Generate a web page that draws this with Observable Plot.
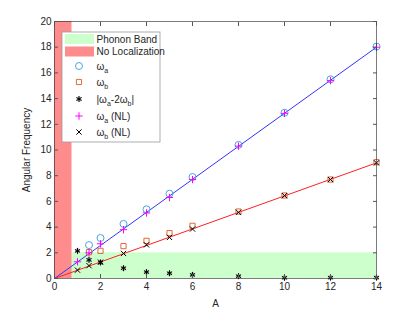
<!DOCTYPE html>
<html><head><meta charset="utf-8">
<script src="https://cdn.jsdelivr.net/npm/d3@7"></script>
<script src="https://cdn.jsdelivr.net/npm/@observablehq/plot@0.6"></script>
<style>
body{margin:0;background:#fff;}
#c{position:relative;width:415px;height:312px;}
svg{font-family:"Liberation Sans",Arial,Helvetica,sans-serif;}
</style>
</head><body><div id="c"></div>
<script>
// amplitudes
const A_all = [1, 1.5, 2, 3, 4, 5, 6, 8, 10, 12, 14];
const A_lin = [1.5, 2, 3, 4, 5, 6, 8, 10, 12, 14];
// linear-theory frequencies
const omegaA = [2.6, 3.15, 4.25, 5.38, 6.6, 7.9, 10.4, 12.9, 15.5, 18.05];
const omegaB = [2.05, 2.15, 2.52, 2.93, 3.53, 4.1, 5.21, 6.46, 7.7, 9.05];
// |wa - 2wb|
const diffW = [2.15, 1.45, 1.25, 0.8, 0.5, 0.41, 0.28, 0.18, 0.06, 0.07, 0.07];
// nonlinear
const omegaA_NL = [1.3, 2.0, 2.7, 3.8, 5.1, 6.3, 7.7, 10.3, 12.85, 15.4, 18.0];
const omegaB_NL = [0.65, 1.0, 1.27, 1.95, 2.62, 3.2, 3.85, 5.15, 6.45, 7.7, 9.0];
// fitted lines
const fitA = [0, 14];
const fitBlue = [0, 18.0];
const fitRed = [0, 9.0];
// bands
const phononBand = {x1: 0, x2: 14, y1: 0, y2: 2};
const noLoc = {x1: 0, x2: 0.76, y1: 0, y2: 20};
// ticks
const xTicks = [0, 2, 4, 6, 8, 10, 12, 14];
const yTicks = [0, 2, 4, 6, 8, 10, 12, 14, 16, 18, 20];

const colBlue = "#4AA6E2", colOrange = "#DE6A3A", colMag = "#FF00FF";
const colGreen = "#CCFFCC", colRed = "#FF8C8C";

const lin = A_lin.map((a, i) => ({a, wa: omegaA[i], wb: omegaB[i]}));
const all = A_all.map((a, i) => ({a, d: diffW[i], waNL: omegaA_NL[i], wbNL: omegaB_NL[i]}));
const blueLine = fitA.map((a, i) => ({a, w: fitBlue[i]}));
const redLine = fitA.map((a, i) => ({a, w: fitRed[i]}));

const axCol = "#262626";
const plot = Plot.plot({
  width: 415, height: 312,
  marginLeft: 54, marginRight: 39, marginTop: 21, marginBottom: 34,
  style: {fontSize: "10px", fontFamily: "Liberation Sans, Arial, sans-serif", color: axCol, background: "white"},
  x: {domain: [0, 14]},
  y: {domain: [0, 20]},
  marks: [
    Plot.rect([phononBand], {x1: "x1", x2: "x2", y1: "y1", y2: "y2", fill: colGreen}),
    Plot.rect([noLoc], {x1: "x1", x2: "x2", y1: "y1", y2: "y2", fill: colRed}),
    Plot.line(blueLine, {x: "a", y: "w", stroke: "#3333FF", strokeWidth: 1}),
    Plot.line(redLine, {x: "a", y: "w", stroke: "#FF2020", strokeWidth: 1}),
    Plot.dot(lin, {x: "a", y: "wa", symbol: "circle", r: 3.5, stroke: colBlue, fill: "none", strokeWidth: 1}),
    Plot.dot(lin, {x: "a", y: "wb", symbol: "square2", r: 3.3, stroke: colOrange, fill: "none", strokeWidth: 1}),
    Plot.dot(all, {x: "a", y: "d", symbol: "circle", r: 2.6, fill: "#777", fillOpacity: 0.5, stroke: "none"}),
    Plot.dot(all, {x: "a", y: "d", symbol: "asterisk", r: 2.8, stroke: "black", strokeWidth: 1}),
    Plot.dot(all, {x: "a", y: "waNL", symbol: "plus", r: 2.5, stroke: colMag, strokeWidth: 1}),
    Plot.dot(all, {x: "a", y: "wbNL", symbol: "times", r: 2.5, stroke: "black", strokeWidth: 1}),
    Plot.frame({stroke: axCol, strokeWidth: 0.6}),
    Plot.axisX(xTicks, {anchor: "bottom", tickSize: -4, tickPadding: 8, label: "A", labelAnchor: "center", labelArrow: "none", labelOffset: 28, stroke: "#555"}),
    Plot.axisX(xTicks, {anchor: "top", tickSize: -4, tickFormat: () => "", label: null, stroke: "#555"}),
    Plot.axisY(yTicks, {anchor: "left", tickSize: -4, tickPadding: 7, label: "Angular Frequency", labelAnchor: "center", labelArrow: "none", labelOffset: 32, stroke: "#555"}),
    Plot.axisY(yTicks, {anchor: "right", tickSize: -4, tickFormat: () => "", label: null, stroke: "#555"})
  ]
});
document.getElementById("c").appendChild(plot);

// legend
const svg = d3.select(plot);
const L = svg.append("g").attr("transform", "translate(62,32)").attr("text-anchor", "start");
L.append("rect").attr("x", 0).attr("y", 0).attr("width", 98).attr("height", 110)
  .attr("fill", "white").attr("stroke", "#999").attr("stroke-width", 0.8);
const legendItems = [
  {kind: "patch", fill: colGreen, label: "Phonon Band"},
  {kind: "patch", fill: colRed, label: "No Localization"},
  {kind: "sym", sym: d3.symbolCircle, size: 38, stroke: colBlue, base: "ω", sub: "a", tail: ""},
  {kind: "sym", sym: d3.symbolSquare2, size: 34, stroke: colOrange, base: "ω", sub: "b", tail: ""},
  {kind: "star"},
  {kind: "sym", sym: d3.symbolPlus, size: 20, stroke: colMag, base: "ω", sub: "a", tail: " (NL)"},
  {kind: "sym", sym: d3.symbolTimes, size: 20, stroke: "black", base: "ω", sub: "b", tail: " (NL)"}
];
const ys = [7, 19.5, 34, 50, 67, 84, 100];
const tx = 34.5;
legendItems.forEach((it, i) => {
  const y = ys[i];
  if (it.kind === "patch") {
    L.append("rect").attr("x", 3).attr("y", y - 5).attr("width", 29).attr("height", 10).attr("fill", it.fill);
    L.append("text").attr("x", tx).attr("y", y).attr("dy", "0.35em").attr("font-size", 10).attr("fill", axCol).text(it.label);
    return;
  }
  const sx = 17;
  if (it.kind === "star") {
    L.append("circle").attr("cx", sx).attr("cy", y).attr("r", 2.6).attr("fill", "#777").attr("fill-opacity", 0.5);
    L.append("path").attr("transform", `translate(${sx},${y})`).attr("d", d3.symbol(d3.symbolAsterisk, 25)())
      .attr("stroke", "black").attr("fill", "none");
    const t = L.append("text").attr("x", tx).attr("y", y).attr("dy", "0.35em").attr("font-size", 10).attr("fill", axCol);
    t.append("tspan").text("|ω");
    t.append("tspan").attr("font-size", 7).attr("dy", 3).text("a");
    t.append("tspan").attr("dy", -3).text("-2ω");
    t.append("tspan").attr("font-size", 7).attr("dy", 3).text("b");
    t.append("tspan").attr("dy", -3).text("|");
    return;
  }
  L.append("path").attr("transform", `translate(${sx},${y})`).attr("d", d3.symbol(it.sym, it.size)())
    .attr("stroke", it.stroke).attr("fill", "none");
  const t = L.append("text").attr("x", tx).attr("y", y).attr("dy", "0.35em").attr("font-size", 10).attr("fill", axCol);
  t.append("tspan").text(it.base);
  t.append("tspan").attr("font-size", 7).attr("dy", 3).text(it.sub);
  if (it.tail) t.append("tspan").attr("dy", -3).text(it.tail);
});
</script></body></html>
